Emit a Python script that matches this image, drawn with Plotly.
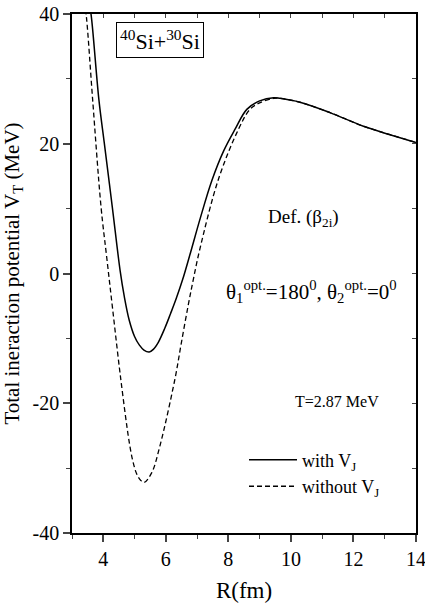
import plotly.graph_objects as go

# Data
r_with = [3.55, 3.63, 3.86, 4.03, 4.29, 4.54, 4.67, 4.83, 5.00, 5.15, 5.30, 5.47, 5.60, 5.76, 5.97, 6.15, 6.33,
          6.54, 6.80, 7.10, 7.47, 7.85, 8.21, 8.59, 9.00, 9.45, 9.65, 10.29, 11.25, 12.32, 13.17, 14.0]
v_with = [42.0, 39.1, 26.8, 20.2, 10.2, 0.4, -3.5, -7.2, -9.7, -11.0, -11.8, -12.1, -11.7, -10.6, -8.4, -6.2, -3.9,
          -0.9, 3.4, 8.5, 14.3, 18.9, 22.2, 25.3, 26.6, 27.1, 27.0, 26.4, 24.8, 22.7, 21.4, 20.2]

r_without = [3.40, 3.47, 3.66, 3.93, 4.11, 4.30, 4.56, 4.83, 4.95, 5.07, 5.20, 5.31, 5.55, 5.81, 6.29, 6.50,
             6.72, 6.88, 7.09, 7.68, 8.32, 8.69, 9.00, 9.45, 9.65, 10.29, 11.25, 12.32, 13.17, 14.0]
v_without = [42.0, 39.1, 26.8, 10.2, 2.5, -5.5, -16.3, -26.0, -29.0, -30.9, -31.9, -32.2, -30.7, -26.6, -16.3, -10.6,
             -4.8, -0.9, 3.8, 14.5, 22.2, 25.3, 26.3, 27.0, 27.0, 26.4, 24.8, 22.7, 21.4, 20.2]

y_tickvals = [-40, -20, 0, 20, 40]
y_ticktext = ["-40", "-20", "0", "20", "40"]
x_tickvals = [4, 6, 8, 10, 12, 14]
x_ticktext = ["4", "6", "8", "10", "12", "14"]

FONT = "Times New Roman, Liberation Serif, DejaVu Serif, serif"

fig = go.Figure()
fig.add_trace(go.Scatter(x=r_with, y=v_with, mode="lines", name="with V<sub>J</sub>",
                         line=dict(color="black", width=1.5, shape="spline", smoothing=1.0)))
fig.add_trace(go.Scatter(x=r_without, y=v_without, mode="lines", name="without V<sub>J</sub>",
                         line=dict(color="black", width=1.3, dash="5px,3px", shape="spline", smoothing=1.0)))
# dummy trace to activate mirrored (inside-tick) axes
fig.add_trace(go.Scatter(x=[3, 14], y=[-40, 40], xaxis="x2", yaxis="y2", mode="lines",
                         line=dict(width=0, color="rgba(0,0,0,0)"), showlegend=False, hoverinfo="skip"))

fig.update_layout(
    width=425, height=603,
    margin=dict(l=72, r=9, t=14, b=70, autoexpand=False),
    paper_bgcolor="white", plot_bgcolor="white",
    font=dict(family=FONT, color="black", size=19),
    showlegend=True,
    legend=dict(x=0.50, y=0.176, xanchor="left", yanchor="top", bgcolor="rgba(0,0,0,0)",
                font=dict(family=FONT, size=18), itemwidth=48, tracegroupgap=0),
    xaxis=dict(range=[3, 14], tickvals=x_tickvals, ticktext=x_ticktext, ticks="outside", ticklen=7,
               tickwidth=1.5, showline=True, linewidth=1.5, linecolor="black", showgrid=False,
               zeroline=False, tickfont=dict(family=FONT, size=20), ticklabeloverflow="allow",
               ticklabelstandoff=0, automargin=False,
               minor=dict(dtick=1, tick0=3, ticks="outside", ticklen=4, tickwidth=1.2, showgrid=False),
               title=dict(text="R(fm)", font=dict(family=FONT, size=23), standoff=14)),
    yaxis=dict(range=[-40, 40], tickvals=y_tickvals, ticktext=y_ticktext, ticks="outside", ticklen=7,
               tickwidth=1.5, showline=True, linewidth=1.5, linecolor="black", showgrid=False,
               zeroline=False, tickfont=dict(family=FONT, size=20), ticklabeloverflow="allow",
               automargin=False,
               minor=dict(dtick=10, tick0=0, ticks="outside", ticklen=4, tickwidth=1.2, showgrid=False),
               title=dict(text="Total ineraction potential V<sub>T</sub> (MeV)",
                          font=dict(family=FONT, size=21), standoff=8)),
    xaxis2=dict(overlaying="x", side="top", range=[3, 14], dtick=1, tick0=3, ticks="inside",
                ticklen=4, tickwidth=1.2, showticklabels=False, showline=True, linewidth=1.5,
                linecolor="black", showgrid=False, zeroline=False, automargin=False),
    yaxis2=dict(overlaying="y", side="right", range=[-40, 40], dtick=10, tick0=0, ticks="inside",
                ticklen=4, tickwidth=1.2, showticklabels=False, showline=True, linewidth=1.5,
                linecolor="black", showgrid=False, zeroline=False, automargin=False),
)

fig.add_annotation(x=5.81, y=36.0, xref="x", yref="y",
                   text="<sup>40</sup>Si+<sup>30</sup>Si", showarrow=False,
                   font=dict(family=FONT, size=22), bordercolor="black", borderwidth=1, borderpad=3)
fig.add_annotation(x=10.39, y=8.6, xref="x", yref="y", text="Def. (β<sub>2i</sub>)", showarrow=False,
                   font=dict(family=FONT, size=19))
fig.add_annotation(x=10.67, y=-2.8, xref="x", yref="y",
                   text="θ<sub>1</sub><sup>opt.</sup>=180<sup>0</sup>, θ<sub>2</sub><sup>opt.</sup>=0<sup>0</sup>",
                   showarrow=False, font=dict(family=FONT, size=21))
fig.add_annotation(x=11.47, y=-19.7, xref="x", yref="y", text="T=2.87 MeV", showarrow=False,
                   font=dict(family=FONT, size=16))

fig.write_html("out.html")
